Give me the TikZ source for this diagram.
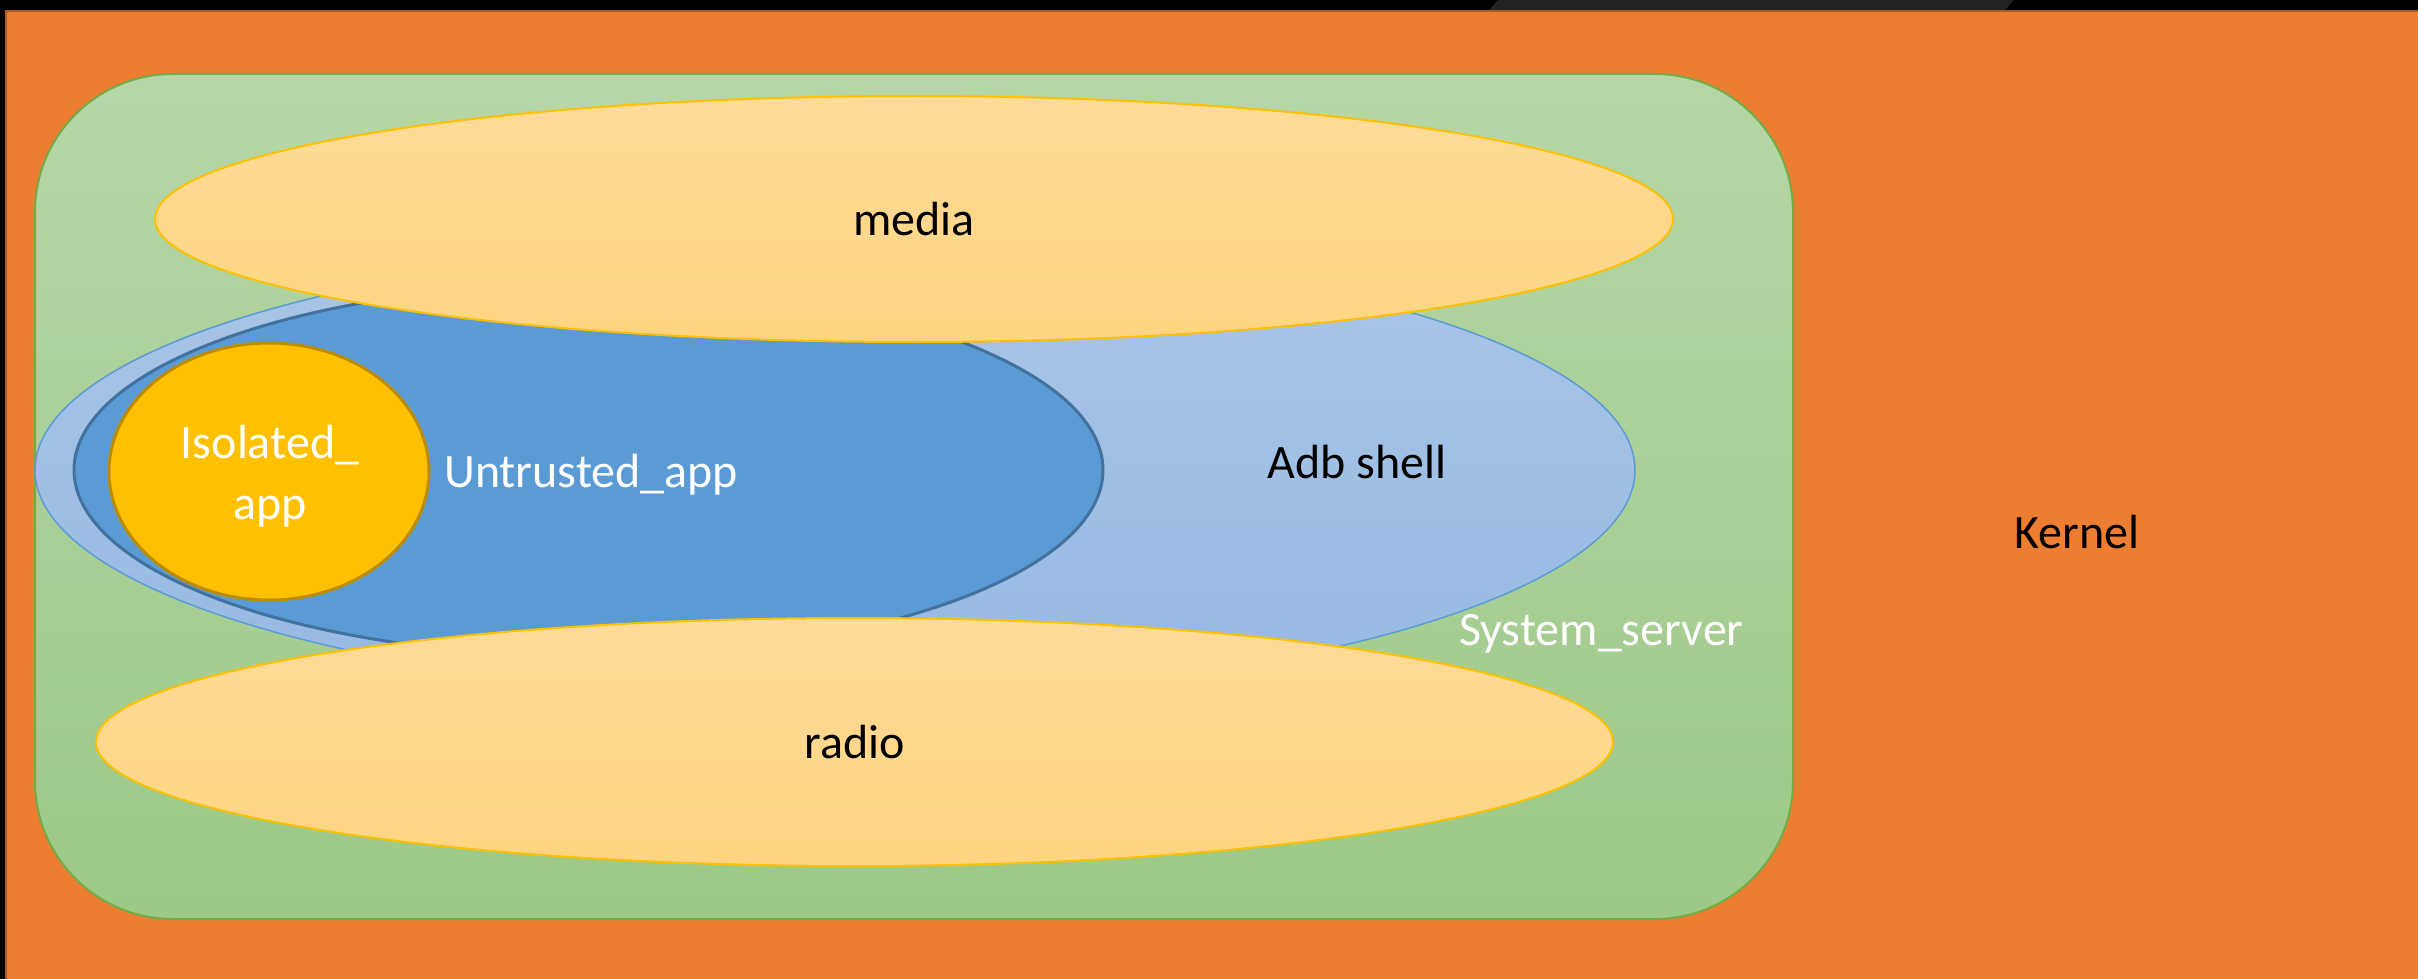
\documentclass[tikz,border=0pt]{standalone}
\usepackage{fontspec}
\setmainfont{Carlito}
\usetikzlibrary{shapes.geometric}

\definecolor{kernelorange}{RGB}{237,125,49}
\definecolor{kerneledge}{RGB}{174,90,33}
\definecolor{sysgreenA}{RGB}{182,214,167}
\definecolor{sysgreenB}{RGB}{157,201,135}
\definecolor{sysgreenline}{RGB}{112,173,71}
\definecolor{paleorangeA}{RGB}{255,219,152}
\definecolor{paleorangeB}{RGB}{255,213,130}
\definecolor{goldline}{RGB}{255,192,0}
\definecolor{adbblueA}{RGB}{170,198,232}
\definecolor{adbblueB}{RGB}{150,185,226}
\definecolor{adbline}{RGB}{91,155,213}
\definecolor{untrustedfill}{RGB}{91,155,213}
\definecolor{untrustedline}{RGB}{65,113,156}
\definecolor{isolatedfill}{RGB}{255,192,0}
\definecolor{isolatedline}{RGB}{188,140,0}
\definecolor{bandgrey}{RGB}{34,34,34}

\tikzset{
  domainlabel/.style={font=\fontsize{48}{61}\selectfont, inner sep=0pt},
  orangeblob/.style={ellipse, draw=goldline, line width=2pt,
    top color=paleorangeA, bottom color=paleorangeB, inner sep=0pt,
    domainlabel, text=black},
}

\begin{document}
\begin{tikzpicture}[x=1pt, y=-1pt]
  \useasboundingbox (0,0) rectangle (2418,979);

  % black frame and dark band at the top
  \fill[black] (0,0) rectangle (2418,979);
  \fill[bandgrey] (1489,10) -- (1498,0) -- (2014,0) -- (2005,10) -- cycle;

  % kernel layer
  \path[fill=kernelorange, draw=kerneledge, line width=2pt] (6,11) rectangle (2424,985);
  \node[domainlabel, text=black] (kernel) at (2077,532) {Kernel};

  % system_server rounded box
  \node[draw=sysgreenline, line width=2pt, rounded corners=138pt,
        top color=sysgreenA, bottom color=sysgreenB,
        minimum width=1758pt, minimum height=845pt, inner sep=0pt]
        (sys) at (914,496.5) {};

  % adb shell
  \node[ellipse, draw=adbline, line width=1.5pt,
        top color=adbblueA, bottom color=adbblueB,
        minimum width=1600pt, minimum height=454pt, inner sep=0pt]
        (adb) at (835,470) {};

  % untrusted_app
  \node[ellipse, draw=untrustedline, line width=3pt, fill=untrustedfill,
        minimum width=1029pt, minimum height=372pt, inner sep=0pt]
        (untrusted) at (588.5,470) {};

  % isolated_app
  \node[ellipse, draw=isolatedline, line width=3pt, fill=isolatedfill,
        minimum width=320pt, minimum height=257pt, inner sep=0pt]
        (isolated) at (269,471.5) {};
  \node[domainlabel, text=white, align=center] (isolatedlbl) at (270,476) {Isolated\_\\app};

  % media and radio
  \node[orangeblob, minimum width=1518pt, minimum height=246pt] (media) at (914,219) {media};
  \node[orangeblob, minimum width=1517pt, minimum height=248pt] (radio) at (854.5,742) {radio};

  % labels
  \node[domainlabel, text=white, anchor=base west] (untrustedlbl) at (444,487) {Untrusted\_app};
  \node[domainlabel, text=black, anchor=base] (adblbl) at (1357,478) {Adb shell};
  \node[domainlabel, text=white, anchor=base west] (syslbl) at (1459,645) {System\_server};
\end{tikzpicture}
\end{document}
